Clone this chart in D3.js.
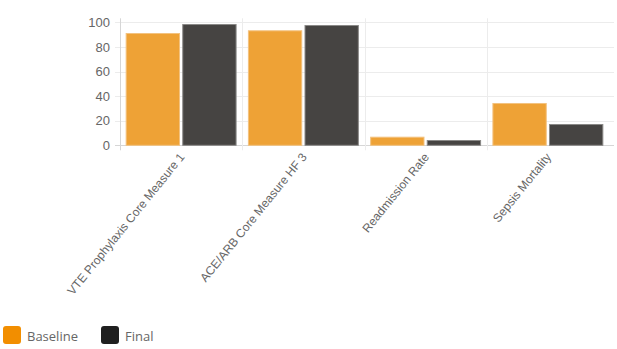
<!DOCTYPE html>
<html>
<head>
<meta charset="utf-8">
<script src="https://cdn.jsdelivr.net/npm/d3@7"></script>
<style>
  html, body { margin: 0; padding: 0; background: #fff; }
  svg { display: block; }
</style>
</head>
<body>
<svg id="chart" width="617" height="349"></svg>
<script>
// Quality measures, baseline vs final
const categories = [
  "VTE Prophylaxis Core Measure 1",
  "ACE/ARB Core Measure HF 3",
  "Readmission Rate",
  "Sepsis Mortality"
];
const seriesNames = ["Baseline", "Final"];
const baselineValues = [91.3, 93.5, 7, 34.4];
const finalValues = [98.6, 97.8, 4.3, 17.3];
const yTicks = [0, 20, 40, 60, 80, 100];

const barFill = ["#eea236", "#464442"];
const barStroke = ["#f3c27f", "#8a8987"];
const legendFill = ["#f28e00", "#1f1f1f"];

const svg = d3.select("#chart");
const plotLeft = 120, plotRight = 609, plotTop = 22.3, plotBottom = 145.3, gridRight = 614;

const x = d3.scaleBand().domain(categories).range([plotLeft, plotRight]).paddingInner(0).paddingOuter(0);
const inner = d3.scaleBand().domain(seriesNames).range([0, x.bandwidth()]).paddingOuter(0.1).paddingInner(0.04);
const y = d3.scaleLinear().domain([0, 100]).range([plotBottom, plotTop]);

// horizontal grid
svg.append("g").selectAll("line").data(yTicks).join("line")
  .attr("x1", plotLeft - 5).attr("x2", gridRight)
  .attr("y1", d => Math.round(y(d)) + 0.5).attr("y2", d => Math.round(y(d)) + 0.5)
  .attr("stroke", d => d === 0 ? "#d6d6d6" : "#ececec").attr("stroke-width", 1);

// vertical category grid
const bounds = categories.map(c => x(c));
svg.append("g").selectAll("line").data(bounds).join("line")
  .attr("x1", d => Math.round(d) + 0.5).attr("x2", d => Math.round(d) + 0.5)
  .attr("y1", plotTop - 4).attr("y2", plotBottom + 5)
  .attr("stroke", (d, i) => i === 0 ? "#d6d6d6" : "#ececec");

// y tick labels
svg.append("g").selectAll("text").data(yTicks).join("text")
  .attr("x", 110).attr("y", d => y(d))
  .attr("dy", "0.36em").attr("text-anchor", "end")
  .attr("font-family", "Liberation Sans, Arial, sans-serif").attr("font-size", 13)
  .attr("fill", "#666").text(d => d);

// bars
const rows = categories.map((c, i) => ({ c, vals: [baselineValues[i], finalValues[i]] }));
const groups = svg.append("g").selectAll("g").data(rows).join("g")
  .attr("transform", d => `translate(${x(d.c)},0)`);
groups.selectAll("rect").data(d => d.vals.map((v, k) => ({ v, k }))).join("rect")
  .attr("x", d => inner(seriesNames[d.k]) + 0.5)
  .attr("width", inner.bandwidth() - 1)
  .attr("y", d => y(d.v) + 0.5)
  .attr("height", d => y(0) - y(d.v) - 0.5)
  .attr("fill", d => barFill[d.k])
  .attr("stroke", d => barStroke[d.k]).attr("stroke-width", 1);

// category labels, rotated
svg.append("g").selectAll("text").data(categories).join("text")
  .attr("transform", d => `translate(${x(d) + x.bandwidth() / 2 + 4},${plotBottom + 12}) rotate(-51)`)
  .attr("text-anchor", "end")
  .attr("font-family", "Liberation Sans, Arial, sans-serif").attr("font-size", 12)
  .attr("fill", "#666").text(d => d);

// legend
const legendX = [3, 101];
const lg = svg.append("g").selectAll("g").data(seriesNames).join("g")
  .attr("transform", (d, i) => `translate(${legendX[i]},326)`);
lg.append("rect").attr("width", 18).attr("height", 18).attr("rx", 3)
  .attr("fill", (d, i) => legendFill[i]);
lg.append("text").attr("x", 24).attr("y", 14.5)
  .attr("font-family", "Open Sans, sans-serif").attr("font-size", 13)
  .attr("fill", "#666").text(d => d);
</script>
</body>
</html>
